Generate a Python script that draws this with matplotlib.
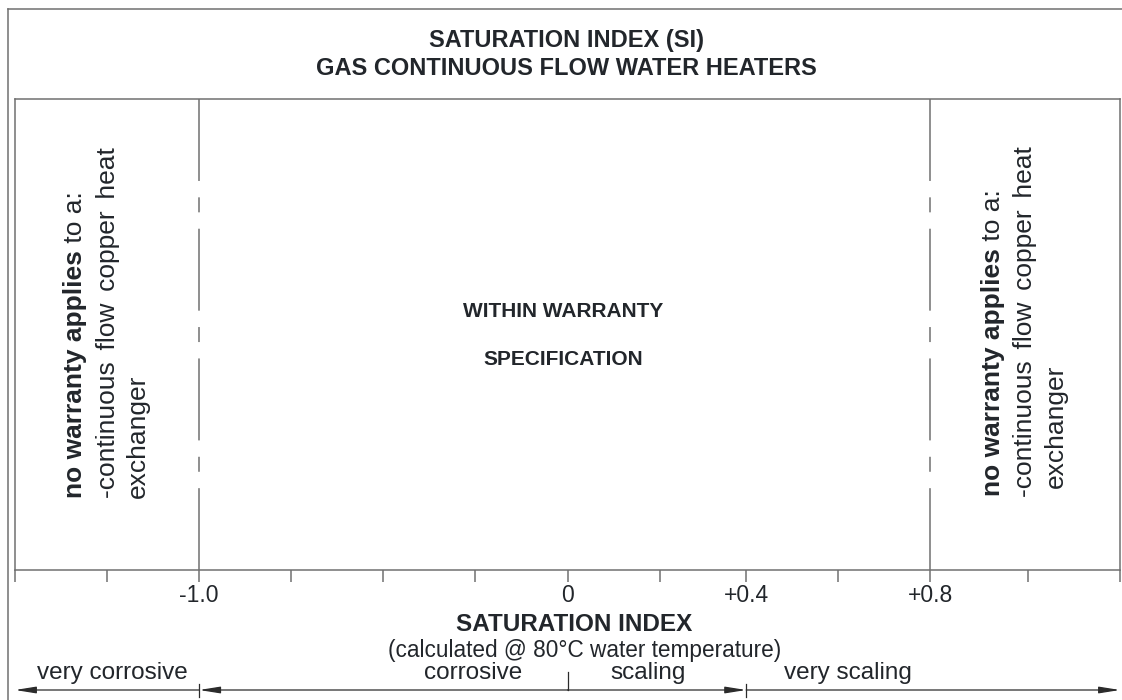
#Saturation index warranty chart for gas continuous flow water heaters
import numpy as np
import matplotlib
matplotlib.use("Agg")
import matplotlib.pyplot as plt
from matplotlib import transforms
from matplotlib.lines import Line2D

plt.rcParams['font.family'] = ['Liberation Sans', 'DejaVu Sans']
plt.rcParams['lines.scale_dashes'] = False

#Chart data (schematic scale, ticks not evenly spaced in SI units)
tick_pos = [0, 1, 2, 3, 4, 5, 6, 7, 7.94, 8.94, 9.94, 11, 12]
tick_labels = ['', '', '-1.0', '', '', '', '0', '', '+0.4', '', '+0.8', '', '']
limit_pos = [2, 9.94]                    # warranty limits (-1.0 and +0.8)
zone_names = ['very corrosive', 'corrosive', 'scaling', 'very scaling']
zone_edges = [0, 2, 6, 7.94, 12]
zone_heads = ['left', 'left', 'right', 'right']
zone_label_x = [1.06, 4.98, 6.87, 9.05]
zone_ticks = [2, 6, 7.94]

title_lines = ['SATURATION INDEX (SI)', 'GAS CONTINUOUS FLOW WATER HEATERS']
middle_lines = ['WITHIN WARRANTY', 'SPECIFICATION']
side_bold = 'no warranty applies'
side_lines = [' to a:',
              '-continuous \u2006flow \u2006copper \u2006heat',
              'exchanger']

W, H = 1122, 700
TXT = '#22262b'
LINE = '#707070'

def fy(py):
    #pixel row from top -> figure fraction
    return 1 - py / H

fig = plt.figure(figsize=(W / 100, H / 100), dpi=100)
fig.patch.set_facecolor('white')

#Outer frame (top and left edges visible)
fig.add_artist(Line2D([8 / W, 1.0], [fy(9), fy(9)], color=LINE, lw=1.1))
fig.add_artist(Line2D([8 / W, 8 / W], [fy(9), 0.0], color=LINE, lw=1.1))

#Title
fig.text(566 / W, fy(47), title_lines[0], ha='center', va='baseline',
         fontsize=17, fontweight='bold', color=TXT)
fig.text(566 / W, fy(75), title_lines[1], ha='center', va='baseline',
         fontsize=17, fontweight='bold', color=TXT)

#Main panel
ax = fig.add_axes([15 / W, 130 / H, 1105 / W, 471 / H])
ax.set_xlim(0, 12)
ax.set_ylim(0, 1)
for s in ax.spines.values():
    s.set_color(LINE)
    s.set_linewidth(1.1)
ax.set_yticks([])
ax.set_xticks(tick_pos, tick_labels)
ax.tick_params(axis='x', direction='out', length=8.6, width=1.1, color=LINE,
               labelsize=16.5, labelcolor=TXT, pad=1.5)

#Warranty limit lines (long-short dash)
for x in limit_pos:
    ax.plot([x, x], [1, 0], color=LINE, lw=1.1,
            linestyle=(0, (59.0, 11.8, 10.8, 11.8)))

#Centre text
ax.text(5.95, 0.537, middle_lines[0], ha='center', va='baseline',
        fontsize=15, fontweight='bold', color=TXT)
ax.text(5.95, 0.435, middle_lines[1], ha='center', va='baseline',
        fontsize=15, fontweight='bold', color=TXT)

#Side texts (rotated), first line has a bold lead-in
side_size = 19
left_x = [0.728, 1.086, 1.412]
left_y = [0.153, 0.153, 0.153]
right_x = [10.697, 11.045, 11.381]
right_y = [0.157, 0.155, 0.174]
bold_texts = []
for xs, ys in ((left_x, left_y), (right_x, right_y)):
    bt = ax.text(xs[0], ys[0], side_bold, rotation=90, rotation_mode='anchor',
                 ha='left', va='baseline', fontsize=side_size,
                 fontweight='bold', color=TXT)
    bold_texts.append(bt)
    for i in (1, 2):
        ax.text(xs[i], ys[i], side_lines[i], rotation=90, rotation_mode='anchor',
                ha='left', va='baseline', fontsize=side_size, color=TXT)

fig.canvas.draw()
inv = ax.transData.inverted()
for bt in bold_texts:
    bb = bt.get_window_extent()
    x0, y0 = bt.get_position()
    top = inv.transform((0, bb.y1))[1]
    ax.text(x0, top, side_lines[0], rotation=90, rotation_mode='anchor',
            ha='left', va='baseline', fontsize=side_size, color=TXT)

#Axis titles below the panel
fig.text(574 / W, fy(631), 'SATURATION INDEX', ha='center', va='baseline',
         fontsize=17.5, fontweight='bold', color=TXT)
fig.text(585 / W, fy(657), '(calculated @ 80°C water temperature)',
         ha='center', va='baseline', fontsize=16.3, color=TXT)

#Zone arrows along the bottom
trans = transforms.blended_transform_factory(ax.transData, fig.transFigure)
ARROW = '#2b2b2b'
for i, name in enumerate(zone_names):
    a, b = zone_edges[i], zone_edges[i + 1]
    head, tail = (a, b) if zone_heads[i] == 'left' else (b, a)
    ax.annotate('', xy=(head, fy(690)), xytext=(tail, fy(690)),
                xycoords=trans, textcoords=trans, annotation_clip=False,
                arrowprops=dict(arrowstyle='-|>,head_length=1.25,head_width=0.2',
                                mutation_scale=10, color=ARROW, lw=0.9,
                                shrinkA=0, shrinkB=0))
    ax.text(zone_label_x[i], fy(679), name, transform=trans, ha='center',
            va='baseline', fontsize=17.5, color=TXT, clip_on=False)

for x in zone_ticks:
    top, bot = (fy(672), fy(690)) if x == 6 else (fy(684), fy(697))
    ax.plot([x, x], [bot, top], transform=trans, color=ARROW, lw=0.9,
            clip_on=False)

fig.savefig('out.png', dpi=100, facecolor='white')
